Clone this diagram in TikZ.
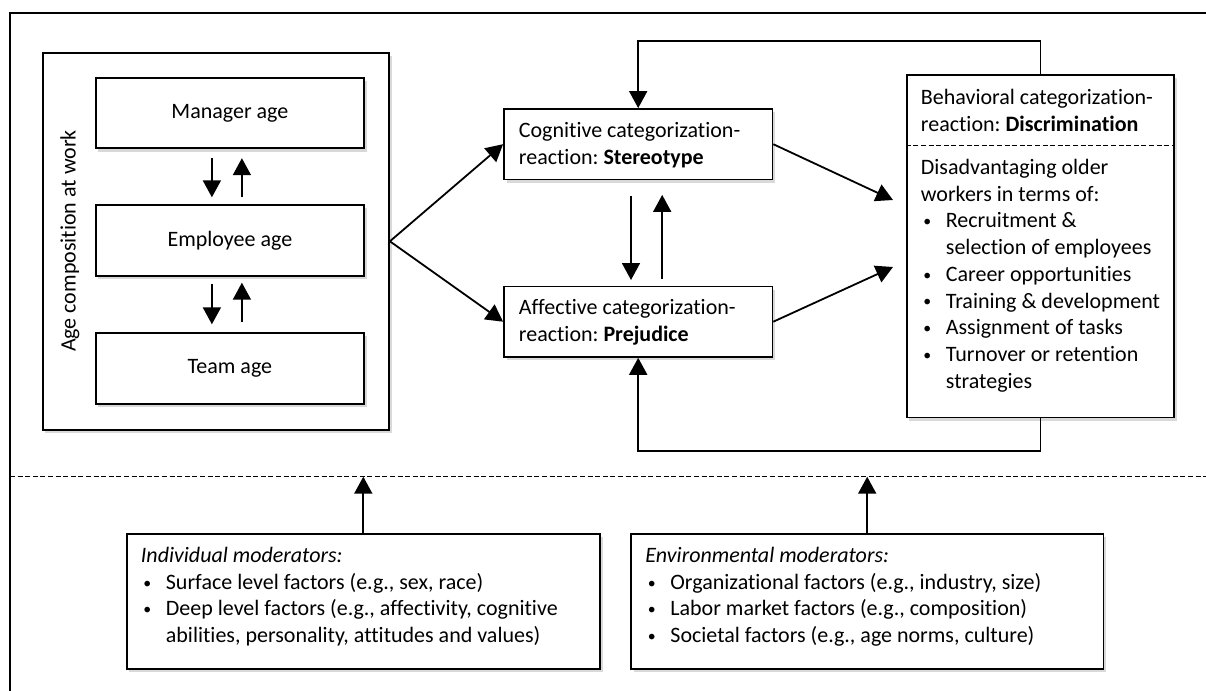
\documentclass[tikz,border=0pt]{standalone}
\usepackage{fontspec}
\usepackage{graphicx}
\setmainfont{Carlito}[RawFeature={-liga}]
\frenchspacing
\usetikzlibrary{arrows.meta,shadows}
\newcommand{\fs}{\fontsize{11}{13.35}\selectfont}
\newcommand{\bul}{\makebox[12.5pt][l]{\hspace{1.2pt}\raisebox{0.6pt}{\scalebox{0.72}{\textbullet}}}}
\newcommand{\cont}{\hspace*{12.5pt}}
\tikzset{
  box/.style={draw,line width=0.9pt,fill=white,inner sep=0pt,font=\fs,
    drop shadow={shadow xshift=1.3pt,shadow yshift=-1.6pt,opacity=0.3}},
  txt/.style={inner sep=0pt,align=left,anchor=north west,font=\fs},
  sep/.style={line width=0.5pt,dash pattern=on 2.5pt off 1.3pt}
}
\begin{document}
\begin{tikzpicture}[x=0.5pt,y=-0.5pt,line width=0.9pt,>={Triangle[length=8.5pt,width=9pt]}]
\useasboundingbox (0,0) rectangle (1206,691);
% frame and level line
\draw (1206,12.7) -- (10,12.7) -- (10,691);
\draw[sep] (10,476.7) -- (1206,476.7);

% age composition
\node[box,minimum width=173.2pt,minimum height=188.7pt] (age) at (215.8,241.3) {};
\node[rotate=90,font=\fs,inner sep=0pt] (agelbl) at (70,241) {Age composition at work};
\node[box,minimum width=134.1pt,minimum height=35.3pt] (mgr) at (229.9,113) {Manager age};
\node[box,minimum width=134.1pt,minimum height=35.3pt] (emp) at (229.9,240.5) {Employee age};
\node[box,minimum width=134.1pt,minimum height=35.3pt] (team) at (229.9,368.5) {Team age};
\draw[->] ([xshift=-9pt,yshift=-4.5pt]mgr.south) -- ([xshift=-9pt,yshift=3.5pt]emp.north);
\draw[->] ([xshift=6pt,yshift=3.5pt]emp.north) -- ([xshift=6pt,yshift=-4.5pt]mgr.south);
\draw[->] ([xshift=-9pt,yshift=-3.5pt]emp.south) -- ([xshift=-9pt,yshift=4pt]team.north);
\draw[->] ([xshift=6pt,yshift=5pt]team.north) -- ([xshift=6pt,yshift=-3pt]emp.south);

% categorization reactions
\node[box,minimum width=134.2pt,minimum height=35.2pt] (cog) at (638.2,144.2) {};
\node[txt] (cogtxt) at (518,118) {\strut Cognitive categorization-\\reaction: \textbf{Stereotype}};
\node[box,minimum width=134.2pt,minimum height=35.2pt] (aff) at (638.2,321.7) {};
\node[txt] (afftxt) at (518,295) {\strut Affective categorization-\\reaction: \textbf{Prejudice}};
\draw[->] (age.east) -- (cog.west);
\draw[->] (age.east) -- (aff.west);
\draw[->] ([xshift=-3.6pt,yshift=-7.8pt]cog.south) -- ([xshift=-3.6pt,yshift=2.8pt]aff.north);
\draw[->] ([xshift=12pt,yshift=3.3pt]aff.north) -- ([xshift=12pt,yshift=-7.3pt]cog.south);

% discrimination
\node[box,minimum width=133.8pt,minimum height=171.2pt] (beh) at (1040.5,246.2) {};
\node[txt] (behhead) at (920,85) {\strut Behavioral categorization-\\reaction: \textbf{Discrimination}};
\coordinate (behsep) at (1040,145);
\draw[sep] (beh.west |- behsep) -- (beh.east |- behsep);
\node[txt] (behlist) at (920,155) {\strut Disadvantaging older\\workers in terms of:\\
  \bul Recruitment \&\\\cont selection of employees\\\bul Career opportunities\\
  \bul Training \& development\\\bul Assignment of tasks\\
  \bul Turnover or retention\\\cont strategies};
\coordinate (behin1) at (893,200);
\coordinate (behin2) at (893,267);
\draw[->] (cog.east) -- (behin1);
\draw[->] (aff.east) -- (behin2);

% feedback loops
\coordinate (fbtop) at (840,41.3);
\coordinate (fbbot) at (840,451);
\draw[->] (beh.north) |- (fbtop) -| (cog.north);
\draw[->] (beh.south) |- (fbbot) -| (aff.south);

% moderators
\node[box,minimum width=236.7pt,minimum height=67.5pt] (indiv) at (363.3,601.5) {};
\node[txt] (indivtxt) at (140,543) {\strut\textit{Individual moderators:}\\
  \bul Surface level factors (e.g., sex, race)\\
  \bul Deep level factors (e.g., affectivity, cognitive\\
  \cont abilities, personality, attitudes and values)};
\node[box,minimum width=236.2pt,minimum height=67.5pt] (env) at (867.2,601.5) {};
\node[txt] (envtxt) at (644.5,543) {\strut\textit{Environmental moderators:}\\
  \bul Organizational factors (e.g., industry, size)\\
  \bul Labor market factors (e.g., composition)\\
  \bul Societal factors (e.g., age norms, culture)};
\coordinate (lvl1) at (363.3,476.7);
\coordinate (lvl2) at (867.2,476.7);
\draw[->] (indiv.north) -- (lvl1);
\draw[->] (env.north) -- (lvl2);
\end{tikzpicture}
\end{document}
